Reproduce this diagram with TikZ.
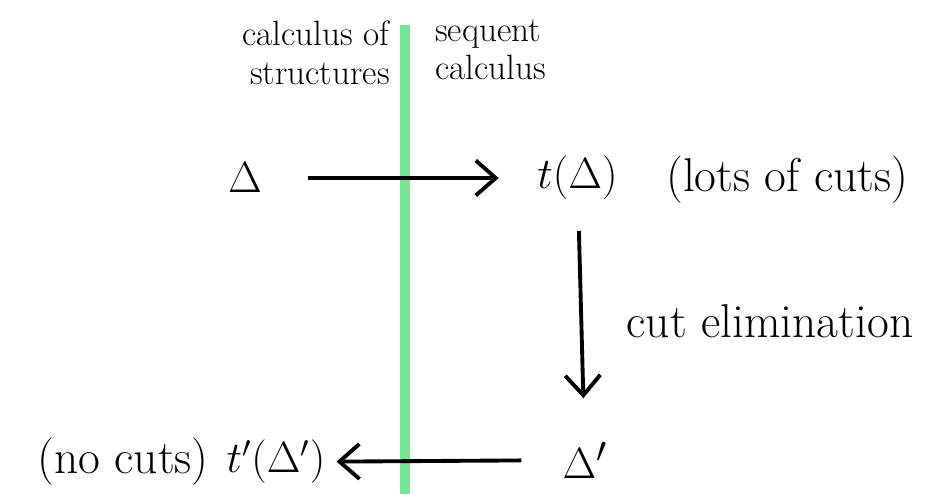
\documentclass[tikz,border=0pt]{standalone}
\usepackage{amsmath,amssymb}
\usetikzlibrary{positioning,arrows.meta,calc}
\usepackage{xcolor}
\definecolor{dividergreen}{RGB}{120,228,150}

\begin{document}
\begin{tikzpicture}[x=1cm,y=1cm,every node/.style={font=\fontsize{27}{30}\selectfont},
  arr/.style={line width=2.2pt,-{Straight Barb[length=4mm,width=7mm,line width=2.2pt]}},
  head/.style={font=\fontsize{20}{22}\selectfont,inner sep=0pt}]
\useasboundingbox (0,0) rectangle (18.6,-9.88);
% divider between the two systems
\coordinate (divtop) at (8.1,-0.5);
\coordinate (divbot) at (8.1,-9.88);
\draw[dividergreen,line width=6pt] (divtop) -- (divbot);
\node[head,anchor=east,align=right] (cos) at (7.8,-1.05) {calculus of\\structures};
\node[head,anchor=west,align=left] (sc) at (8.7,-1.0) {sequent\\calculus};
% top row
\node (delta) at (4.9,-3.56) {\fontsize{28}{30}\selectfont$\Delta$};
\node (tdelta) at (11.55,-3.56) {$t(\Delta)$};
\node[anchor=west] (lots) at (13.2,-3.6) {(lots of cuts)};
% bottom row
\node (deltap) at (11.7,-9.2) {\fontsize{28}{30}\selectfont$\Delta'$};
\node (tpdelta) at (5.52,-9.24) {$t'(\Delta')$};
\node[anchor=east] (nocuts) at (4.3,-9.24) {(no cuts)};
% arrows
\draw[arr,shorten <=0.8cm,shorten >=0.65cm] (delta) -- (tdelta);
\draw[arr,shorten <=0.5cm,shorten >=0.75cm] (tdelta) -- (deltap)
  node[midway,right=0.75cm,anchor=west] (cutelim) {cut elimination};
\draw[arr,shorten <=0.7cm,shorten >=0.1cm] (deltap) -- (tpdelta);
\end{tikzpicture}
\end{document}
